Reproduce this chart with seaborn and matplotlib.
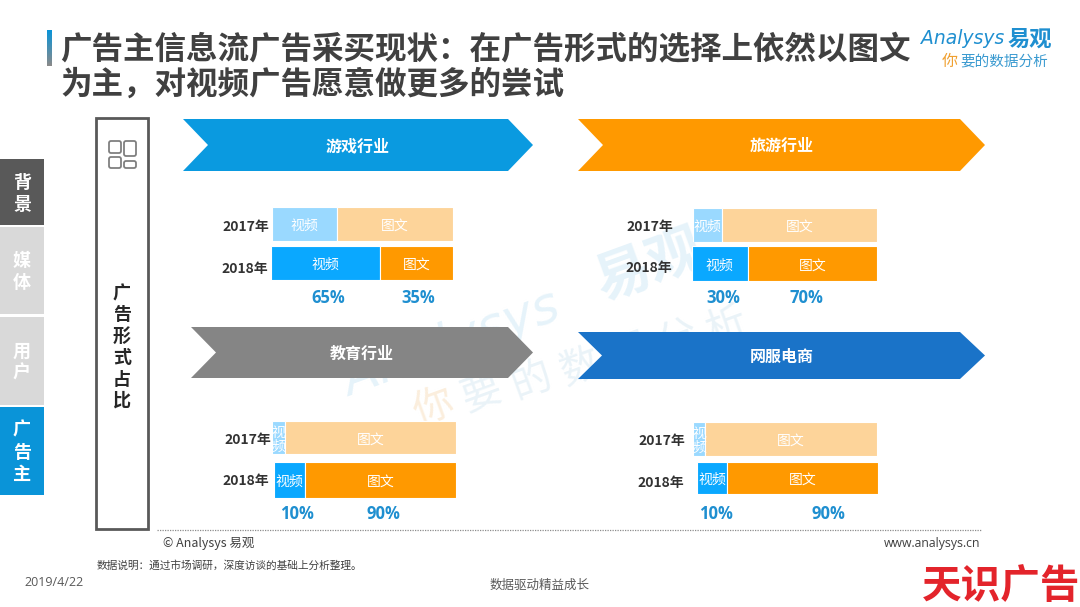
import matplotlib
matplotlib.use("Agg")
import matplotlib.pyplot as plt
from matplotlib.patches import Polygon, Rectangle, FancyBboxPatch
from matplotlib.transforms import ScaledTranslation
import numpy as np
import seaborn as sns

sns.set_theme(style="white")
CJK = ['Noto Sans CJK SC', 'DejaVu Sans']
plt.rcParams['font.family'] = CJK

W, H = 1080, 607

# ---------- data ----------
industries = ["游戏行业", "旅游行业", "教育行业", "网服电商"]
years = ["2017年", "2018年"]
video_2017 = [36, 16, 7, 6.5]
image_2017 = [64, 84, 93, 93.5]
video_2018 = [60, 30, 17, 16.5]
image_2018 = [40, 70, 83, 83.5]
video_pct_labels = ["65%", "30%", "10%", "10%"]
image_pct_labels = ["35%", "70%", "90%", "90%"]
series_names = ["视频", "图文"]
title_lines = ["广告主信息流广告采买现状：在广告形式的选择上依然以图文", "为主，对视频广告愿意做更多的尝试"]
side_tabs = ["背\n景", "媒\n体", "用\n户", "广\n告\n主"]
slogan_chars = "你要的数据分析"

# ---------- layout (pixels) ----------
bar_boxes = [
    [(272, 453, 207, 241), (271, 453, 246, 280)],
    [(693, 877, 208, 242), (692, 877, 246, 281)],
    [(272, 456, 421, 454), (274, 456, 462, 498)],
    [(693, 877, 422, 456), (697, 878, 462, 494)],
]
year_gap = [[3, 3], [20, 20], [1, 5], [8, 13]]
year_dy = [[2, 5], [1, 3], [1, 0], [0, 3]]
pct_pos = [((328, 298), (418, 298)), ((723, 298), (806, 298)),
           ((297, 514), (383, 514)), ((716, 514), (828, 514))]
banners = [(183, 533, 119, 171, 208, 508, "#0a9ae0", (358, 146)),
           (578, 985, 119, 171, 603, 960, "#ff9900", (782, 146)),
           (191, 533, 327, 378, 216, 508, "#858585", (362, 354)),
           (578, 985, 332, 379, 602, 960, "#1a73c8", (782, 357))]
tab_boxes = [(159, 225, "#595959"), (227, 314, "#d9d9d9"), (317, 405, "#d9d9d9"), (407, 495, "#0a94d8")]
colors = {0: ("#9ad9ff", "#fdd49a"), 1: ("#0aa8ff", "#ff9900")}

fig = plt.figure(figsize=(W / 100, H / 100), dpi=100, facecolor="white")
bg = fig.add_axes([0, 0, 1, 1], zorder=0)
bg.set_xlim(0, W)
bg.set_ylim(H, 0)
bg.axis("off")

# watermark (behind everything)
bg.text(452, 345, "Analysys", fontsize=37, color="#e6f3fa", rotation=20, ha="center", va="center",
        style="italic", family="DejaVu Sans", zorder=0.5)
bg.text(650, 266, "易观", fontsize=40, color="#e6f3fa", rotation=20, ha="center", va="center",
        fontweight="bold", zorder=0.5)
for i, ch in enumerate(slogan_chars):
    bg.text(433 + i * 49, 407 - i * 13.4, ch, fontsize=29, color="#fbeedd" if i == 0 else "#eaf3f8",
            rotation=20, ha="center", va="center", zorder=0.5)

# title
bg.imshow(np.linspace(0, 1, 36).reshape(-1, 1), extent=(47, 52, 66, 30), aspect="auto",
          cmap=matplotlib.colors.LinearSegmentedColormap.from_list("a", ["#0a94d8", "#8a8a8a"]))
bg.set_xlim(0, W)
bg.set_ylim(H, 0)
for line, y in zip(title_lines, (50, 85)):
    bg.text(60, y, line, fontsize=22.72, fontweight="bold", color="#404040", va="center", ha="left")

# logo
bg.text(921, 39, "Analysys", fontsize=13.5, color="#1f8fd0", style="italic", va="center", ha="left", family="DejaVu Sans")
bg.text(1008, 39, "易观", fontsize=16, color="#1f8fd0", fontweight="bold", va="center", ha="left")
bg.text(942, 61, "你", fontsize=11.5, color="#f0a030", va="center", ha="left")
bg.text(960, 61, "要的数据分析", fontsize=10.5, color="#3a9ad0", va="center", ha="left")

# side tabs
for (y0, y1, c), t in zip(tab_boxes, side_tabs):
    bg.add_patch(Rectangle((0, y0), 44, y1 - y0, facecolor=c, edgecolor="none"))
    bg.text(22, (y0 + y1) / 2 + 1, t, color="white", fontsize=13, fontweight="bold", ha="center", va="center", linespacing=1.2)

# left label box
bg.add_patch(Rectangle((96, 118), 52, 411, facecolor="none", edgecolor="#595959", lw=2))
for x, y, w, h in [(109, 141, 12, 12), (124, 141, 12, 15), (109, 157, 12, 11), (124, 161, 12, 7)]:
    bg.add_patch(FancyBboxPatch((x + 2, y + 2), w - 4, h - 4, boxstyle="round,pad=2", facecolor="none",
                                edgecolor="#808080", lw=1.3))
bg.text(122, 347, "广\n告\n形\n式\n占\n比", fontsize=13, fontweight="bold", color="#262626", ha="center", va="center",
        linespacing=1.16)

# banners
for name, (x0, x1, y0, y1, notch, base, c, tp) in zip(industries, banners):
    ym = (y0 + y1) / 2
    bg.add_patch(Polygon([(x0, y0), (base, y0), (x1, ym), (base, y1), (x0, y1), (notch, ym)], closed=True,
                         facecolor=c, edgecolor="none"))
    bg.text(tp[0], tp[1], name, fontsize=11.5, fontweight="bold", color="white", ha="center", va="center")

# bars
video = [video_2017, video_2018]
image = [image_2017, image_2018]
for p in range(4):
    for r in range(2):
        x0, x1, y0, y1 = bar_boxes[p][r]
        ax = fig.add_axes([x0 / W, 1 - y1 / H, (x1 - x0) / W, (y1 - y0) / H], zorder=2)
        ax.patch.set_alpha(0)
        v, m = video[r][p], image[r][p]
        sns.barplot(x=[v], y=[years[r]], color=colors[r][0], orient="h", width=1, ax=ax, saturation=1,
                    edgecolor="white", linewidth=0.8)
        sns.barplot(x=[m], y=[years[r]], left=[v], color=colors[r][1], orient="h", width=1, ax=ax, saturation=1,
                    edgecolor="white", linewidth=0.8)
        ax.set_xlim(0, 100)
        ax.set_ylim(0.5, -0.5)
        ax.set_xlabel("")
        ax.set_ylabel("")
        ax.set_xticks([])
        sns.despine(ax=ax, left=True, bottom=True)
        ax.tick_params(axis="y", length=0, pad=year_gap[p][r] * 0.72, labelsize=10, labelcolor="#333333")
        shift = ScaledTranslation(0, -year_dy[p][r] / 100, fig.dpi_scale_trans)
        for lab in ax.get_yticklabels():
            lab.set_fontweight("bold")
            lab.set_transform(lab.get_transform() + shift)
        narrow = v < 10
        txt_shift = ax.transData + ScaledTranslation(0, -2 / 100, fig.dpi_scale_trans)
        ax.text(v / 2, 0, "视\n频" if narrow else series_names[0], color="white", ha="center", va="center",
                fontsize=10, linespacing=1.0, transform=txt_shift)
        ax.text(v + m / 2, 0, series_names[1], color="white", ha="center", va="center", fontsize=10, transform=txt_shift)

# percent labels
for (a, b), va_, ia in zip(pct_pos, video_pct_labels, image_pct_labels):
    bg.text(a[0], a[1], va_, color="#1f8fd0", fontsize=12, fontweight="bold", ha="center", va="center", family="Open Sans")
    bg.text(b[0], b[1], ia, color="#1f8fd0", fontsize=12, fontweight="bold", ha="center", va="center", family="Open Sans")

# footer
bg.plot([157, 982], [530, 530], color="#8c8c8c", lw=0.9, ls=(0, (1, 1)))
bg.text(163, 543, "© Analysys 易观", fontsize=9, color="#404040", ha="left", va="center")
bg.text(980, 543, "www.analysys.cn", fontsize=8.8, color="#404040", ha="right", va="center", family="Open Sans")
bg.text(97, 566, "数据说明：通过市场调研，深度访谈的基础上分析整理。", fontsize=7.7, color="#404040", ha="left", va="center")
bg.text(24, 583, "2019/4/22", fontsize=9, color="#595959", ha="left", va="center", family="Open Sans")
bg.text(540, 585, "数据驱动精益成长", fontsize=9, color="#595959", ha="center", va="center")
bg.text(1001, 587, "天识广告", fontsize=28.5, color="#e3242b", fontweight="bold", ha="center", va="center")

fig.savefig("out.png", dpi=100)
